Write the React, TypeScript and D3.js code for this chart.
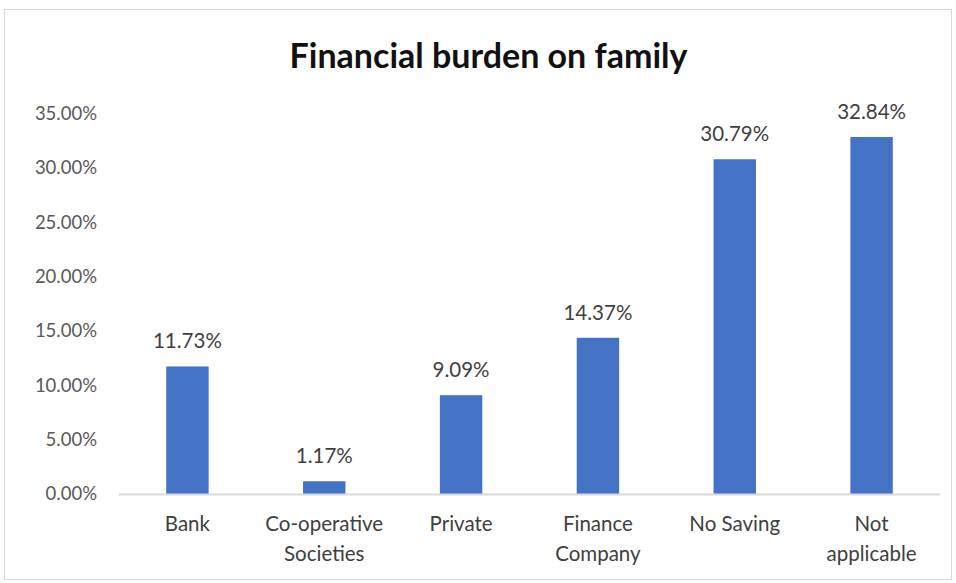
import React from "react";
import * as d3 from "d3";

const categories = ["Bank", "Co-operative Societies", "Private", "Finance Company", "No Saving", "Not applicable"];
const categoryLines = [["Bank"], ["Co-operative", "Societies"], ["Private"], ["Finance", "Company"], ["No Saving"], ["Not", "applicable"]];
const values = [11.73, 1.17, 9.09, 14.37, 30.79, 32.84];
const yTicks = [0, 5, 10, 15, 20, 25, 30, 35];

const W = 956, H = 583;
const M = { left: 119, right: 940, top: 113.5, bottom: 494 };
const FONT = "Lato, 'Open Sans', sans-serif";

export default function App() {
  const x = d3.scaleBand<string>().domain(categories).range([M.left, M.right]).paddingInner(0.69).paddingOuter(0.345);
  const y = d3.scaleLinear().domain([0, 35]).range([M.bottom, M.top]);
  return (
    <svg width={W} height={H} style={{ position: "absolute", left: 0, top: 0 }}>
      <rect x={0} y={0} width={W} height={H} fill="#fff" />
      <rect x={4.5} y={9.5} width={947} height={570} fill="#fff" stroke="#d9d9d9" />
      <text x={488.5} y={68} textAnchor="middle" fontFamily={FONT} fontWeight={700} fontSize={34} fill="#111">Financial burden on family</text>
      {yTicks.map(t => (
        <text key={t} x={97} y={y(t)} dy="0.35em" textAnchor="end" fontFamily={FONT} fontSize={18.5} fill="#595959">{t.toFixed(2)}%</text>
      ))}
      {categories.map((c, i) => (
        <g key={c}>
          <rect x={x(c)} y={y(values[i])} width={x.bandwidth()} height={y(0) - y(values[i])} fill="#4472c4" />
          <text x={x(c)! + x.bandwidth() / 2} y={y(values[i]) - 18} textAnchor="middle" fontFamily={FONT} fontSize={20.5} fill="#404040">{values[i].toFixed(2)}%</text>
          {categoryLines[i].map((l, j) => (
            <text key={j} x={x(c)! + x.bandwidth() / 2} y={531 + j * 30} textAnchor="middle" fontFamily={FONT} fontSize={20.5} fill="#404040">{l}</text>
          ))}
        </g>
      ))}
      <line x1={M.left} x2={M.right} y1={y(0) + 0.5} y2={y(0) + 0.5} stroke="#d9d9d9" strokeWidth={2} />
    </svg>
  );
}
